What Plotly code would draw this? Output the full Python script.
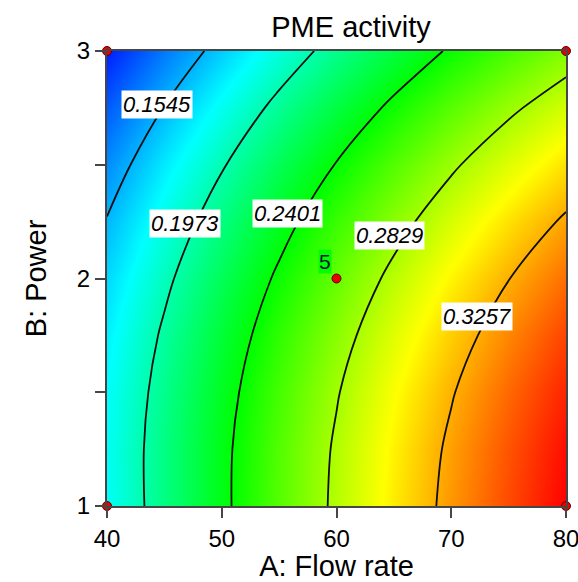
import plotly.graph_objects as go

# ---- data ----
flow_rate = [40, 45, 50, 55, 60, 65, 70, 75, 80]
power = [1, 1.25, 1.5, 1.75, 2, 2.25, 2.5, 2.75, 3]
# PME activity estimated on the grid (rows = power, columns = flow rate)
pme_b100 = [0.1780, 0.2076, 0.2356, 0.2620, 0.2867, 0.3098, 0.3313, 0.3512, 0.3694]
pme_b125 = [0.1786, 0.2077, 0.2353, 0.2612, 0.2854, 0.3081, 0.3291, 0.3485, 0.3663]
pme_b150 = [0.1767, 0.2053, 0.2324, 0.2578, 0.2816, 0.3038, 0.3244, 0.3433, 0.3606]
pme_b175 = [0.1722, 0.2004, 0.2270, 0.2520, 0.2753, 0.2970, 0.3171, 0.3356, 0.3524]
pme_b200 = [0.1652, 0.1929, 0.2190, 0.2435, 0.2664, 0.2877, 0.3073, 0.3253, 0.3417]
pme_b225 = [0.1556, 0.1829, 0.2085, 0.2326, 0.2550, 0.2758, 0.2949, 0.3125, 0.3284]
pme_b250 = [0.1435, 0.1703, 0.1955, 0.2191, 0.2410, 0.2613, 0.2800, 0.2971, 0.3125]
pme_b275 = [0.1289, 0.1552, 0.1800, 0.2031, 0.2245, 0.2444, 0.2626, 0.2792, 0.2942]
pme_b300 = [0.1117, 0.1376, 0.1619, 0.1845, 0.2055, 0.2249, 0.2427, 0.2588, 0.2733]
pme_activity = [pme_b100, pme_b125, pme_b150, pme_b175, pme_b200,
                pme_b225, pme_b250, pme_b275, pme_b300]

contour_levels = [0.1545, 0.1973, 0.2401, 0.2829, 0.3257]
label_flow = [44.36, 46.80, 55.77, 64.66, 72.24]
label_power = [2.765, 2.240, 2.284, 2.191, 1.831]

design_flow = [40, 40, 80, 80, 60]
design_power = [1, 3, 1, 3, 2]
center_reps = "5"

x_ticks = [40, 50, 60, 70, 80]
y_ticks = [1, 1.5, 2, 2.5, 3]
y_ticktext = ["1", "", "2", "", "3"]

FONT = "Liberation Sans, Arial, sans-serif"

colorscale = [
    [0.0, "rgb(0,30,255)"],
    [0.25, "rgb(0,255,255)"],
    [0.5, "rgb(0,255,0)"],
    [0.75, "rgb(255,255,0)"],
    [1.0, "rgb(255,0,0)"],
]

zflat = [v for row in pme_activity for v in row]

fig = go.Figure()
fig.add_trace(go.Heatmap(
    x=flow_rate, y=power, z=pme_activity,
    colorscale=colorscale, zmin=min(zflat), zmax=max(zflat),
    zsmooth="best", showscale=False, hoverinfo="skip",
))
step = contour_levels[1] - contour_levels[0]
fig.add_trace(go.Contour(
    x=flow_rate, y=power, z=pme_activity,
    contours=dict(coloring="none", start=contour_levels[0],
                  end=contour_levels[-1] + step / 10, size=step,
                  showlabels=False),
    line=dict(color="rgb(15,15,15)", width=1.8, smoothing=1.0),
    showscale=False, hoverinfo="skip",
))
fig.add_trace(go.Scatter(
    x=design_flow, y=design_power, mode="markers",
    marker=dict(size=9, color="rgb(235,0,0)",
                line=dict(color="rgb(90,0,0)", width=1)),
    cliponaxis=False, showlegend=False, hoverinfo="skip",
))

annotations = []
for lv, fx, py in zip(contour_levels, label_flow, label_power):
    annotations.append(dict(
        x=fx, y=py, xref="x", yref="y", text=f"<i>{lv:.4f}</i>",
        showarrow=False, bgcolor="white", borderpad=1,
        font=dict(family=FONT, size=22, color="black"),
    ))
annotations.append(dict(
    x=design_flow[-1], y=design_power[-1], xref="x", yref="y",
    text=center_reps, showarrow=False, xshift=-12, yshift=17,
    bgcolor="rgb(0,255,0)", borderpad=0,
    font=dict(family=FONT, size=21, color="rgb(20,20,60)"),
))

fig.update_layout(
    width=578, height=582,
    margin=dict(l=107, r=12, t=51, b=76),
    paper_bgcolor="white", plot_bgcolor="white",
    font=dict(family=FONT, color="black"),
    title=dict(text="PME activity", x=351 / 578, xanchor="center",
               y=1 - 27 / 582, yanchor="middle", yref="container",
               font=dict(family=FONT, size=29, color="black")),
    annotations=annotations,
    showlegend=False,
)
fig.update_xaxes(
    range=[40, 80], tickvals=x_ticks, ticks="outside", ticklen=10,
    tickwidth=2, tickcolor="rgb(70,70,70)", automargin=False,
    ticklabeloverflow="allow",
    showline=True, linecolor="rgb(70,70,70)", linewidth=2, mirror=True,
    showgrid=False, zeroline=False,
    tickfont=dict(family=FONT, size=24, color="black"),
    title=dict(text="A: Flow rate", standoff=2,
               font=dict(family=FONT, size=29, color="black")),
)
fig.update_yaxes(
    range=[1, 3], tickvals=y_ticks, ticktext=y_ticktext, ticks="outside",
    ticklen=10, tickwidth=2, tickcolor="rgb(70,70,70)", automargin=False,
    ticklabeloverflow="allow",
    showline=True, linecolor="rgb(70,70,70)", linewidth=2, mirror=True,
    showgrid=False, zeroline=False,
    tickfont=dict(family=FONT, size=24, color="black"),
    title=dict(text="B: Power", standoff=22,
               font=dict(family=FONT, size=29, color="black")),
)

fig.write_html("out.html")
